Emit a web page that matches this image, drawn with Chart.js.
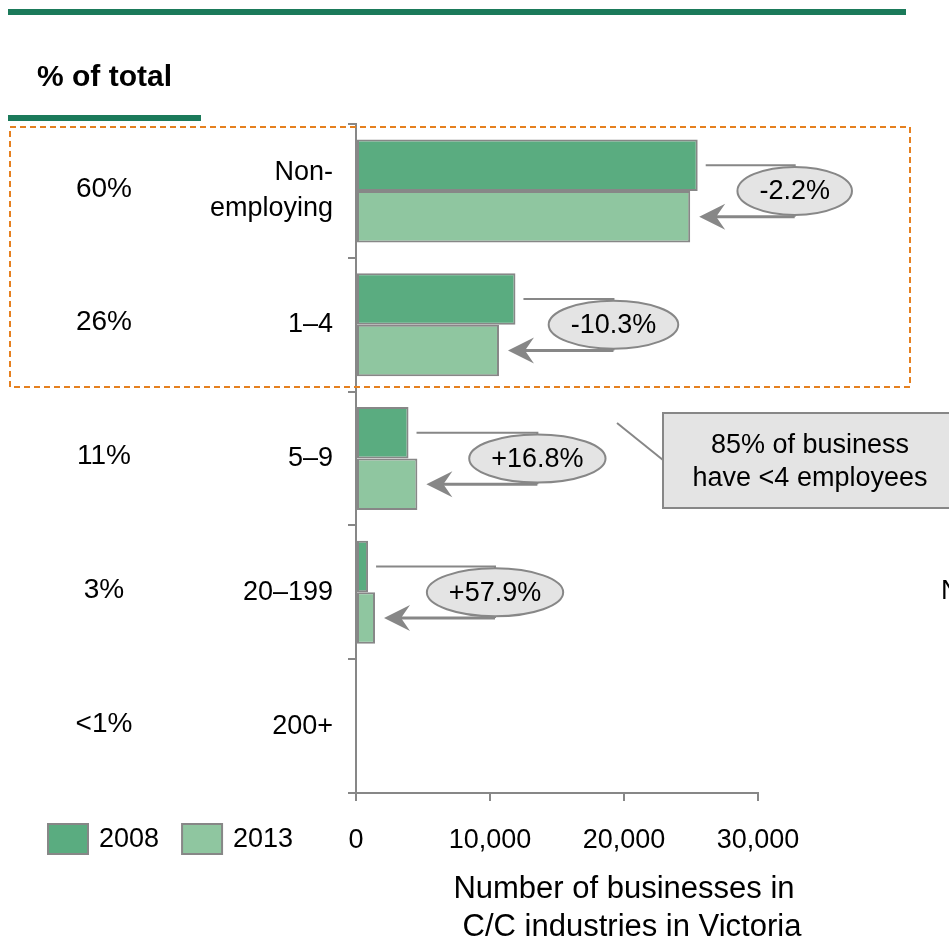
<!DOCTYPE html>
<html>
<head>
<meta charset="utf-8">
<script src="https://cdn.jsdelivr.net/npm/chart.js@4"></script>
<style>
  html, body { margin: 0; padding: 0; background: #fff; }
</style>
</head>
<body>
<canvas id="myChart" width="949" height="944"></canvas>
<script>
// business size bands (employees) and share of all businesses
const sizeBands = [['Non-', 'employing'], '1–4', '5–9', '20–199', '200+'];
const shareOfTotal = ['60%', '26%', '11%', '3%', '<1%'];

// number of C/C businesses in Victoria
const businesses2008 = [25500, 11900, 3920, 900, null];
const businesses2013 = [24940, 10670, 4580, 1420, null];
const changeLabels = ['-2.2%', '-10.3%', '+16.8%', '+57.9%', null];

const xTicks = [0, 10000, 20000, 30000];

const FONT = '"Liberation Sans", Arial, sans-serif';
const GREY = '#878787';

// how far right of the longer bar each change bubble sits (px)
const calloutReach = [97, 98, 120, 120, 0];

function arrowLeft(ctx, tipX, y) {
    ctx.beginPath();
    ctx.moveTo(tipX, y);
    ctx.lineTo(tipX + 26, y - 13);
    ctx.lineTo(tipX + 17, y);
    ctx.lineTo(tipX + 26, y + 13);
    ctx.closePath();
    ctx.fill();
}

const extras = {
    id: 'extras',
    afterDraw(chart) {
        const ctx = chart.ctx;
        const yScale = chart.scales.y;
        ctx.save();

        // header rules and title
        ctx.fillStyle = '#1b7a5a';
        ctx.fillRect(8, 9, 898, 6);
        ctx.fillRect(8, 115, 193, 6);
        ctx.fillStyle = '#000';
        ctx.font = 'bold 30px ' + FONT;
        ctx.textAlign = 'left';
        ctx.textBaseline = 'middle';
        ctx.fillText('% of total', 37, 78);

        // share column
        ctx.font = '28px ' + FONT;
        ctx.textAlign = 'center';
        shareOfTotal.forEach((s, i) => {
            ctx.fillText(s, 104, yScale.getPixelForValue(i) - 2);
        });

        // change callouts
        const m08 = chart.getDatasetMeta(0);
        const m13 = chart.getDatasetMeta(1);
        ctx.strokeStyle = GREY;
        ctx.fillStyle = GREY;
        changeLabels.forEach((txt, i) => {
            if (!txt) return;
            const b08 = m08.data[i], b13 = m13.data[i];
            const xEnd = Math.max(b08.x, b13.x) + calloutReach[i];
            ctx.lineWidth = 2;
            ctx.beginPath();
            ctx.moveTo(b08.x + 8, b08.y);
            ctx.lineTo(xEnd, b08.y);
            ctx.lineTo(xEnd, b13.y);
            ctx.stroke();
            ctx.lineWidth = 3;
            ctx.beginPath();
            ctx.moveTo(xEnd, b13.y);
            ctx.lineTo(b13.x + 20, b13.y);
            ctx.stroke();
            ctx.fillStyle = GREY;
            arrowLeft(ctx, b13.x + 9, b13.y);

            ctx.font = '27px ' + FONT;
            const w = ctx.measureText(txt).width;
            const cy = (b08.y + b13.y) / 2;
            ctx.beginPath();
            ctx.ellipse(xEnd, cy, w / 2 + 22, 24, 0, 0, Math.PI * 2);
            ctx.fillStyle = '#e4e4e4';
            ctx.fill();
            ctx.lineWidth = 2;
            ctx.stroke();
            ctx.fillStyle = '#000';
            ctx.textAlign = 'center';
            ctx.fillText(txt, xEnd, cy + 1);
        });

        // highlight of the smallest businesses
        ctx.strokeStyle = '#e5801f';
        ctx.lineWidth = 2;
        ctx.setLineDash([6, 4]);
        ctx.strokeRect(10, 127, 900, 260);
        ctx.setLineDash([]);

        // note box
        ctx.strokeStyle = GREY;
        ctx.lineWidth = 2;
        ctx.beginPath();
        ctx.moveTo(617, 423);
        ctx.lineTo(663, 460);
        ctx.stroke();
        ctx.fillStyle = '#e4e4e4';
        ctx.fillRect(663, 413, 296, 95);
        ctx.strokeRect(663, 413, 296, 95);
        ctx.fillStyle = '#000';
        ctx.font = '27px ' + FONT;
        ctx.textAlign = 'center';
        ctx.fillText('85% of business', 810, 446);
        ctx.fillText('have <4 employees', 810, 479);

        ctx.textAlign = 'left';
        ctx.fillText('N', 941, 592);

        // legend
        let lx = 48;
        chart.data.datasets.forEach(ds => {
            ctx.fillStyle = ds.backgroundColor;
            ctx.fillRect(lx, 824, 40, 30);
            ctx.strokeStyle = GREY;
            ctx.lineWidth = 2;
            ctx.strokeRect(lx, 824, 40, 30);
            ctx.fillStyle = '#000';
            ctx.font = '27px ' + FONT;
            ctx.textAlign = 'left';
            ctx.fillText(ds.label, lx + 51, 840);
            lx += 51 + ctx.measureText(ds.label).width + 23;
        });

        // x axis title
        ctx.font = '31px ' + FONT;
        ctx.textAlign = 'center';
        ctx.fillText('Number of businesses in', 624, 889);
        ctx.fillText('C/C industries in Victoria', 632, 927);

        ctx.restore();
    }
};

const ctx = document.getElementById('myChart').getContext('2d');

new Chart(ctx, {
    type: 'bar',
    data: {
        labels: sizeBands,
        datasets: [{
            label: '2008',
            data: businesses2008,
            backgroundColor: '#5aac80',
            borderColor: GREY,
            borderWidth: 2,
            borderSkipped: false
        }, {
            label: '2013',
            data: businesses2013,
            backgroundColor: '#8fc6a0',
            borderColor: GREY,
            borderWidth: 2,
            borderSkipped: false
        }]
    },
    options: {
        responsive: false,
        animation: false,
        indexAxis: 'y',
        layout: { padding: { top: 124, right: 191, left: 0, bottom: 0 } },
        datasets: { bar: { categoryPercentage: 0.77, barPercentage: 1 } },
        plugins: {
            legend: { display: false },
            tooltip: { enabled: false }
        },
        scales: {
            x: {
                min: 0,
                max: 30000,
                afterBuildTicks: scale => { scale.ticks = xTicks.map(v => ({ value: v })); },
                afterFit: scale => { scale.height = 151; },
                grid: { drawOnChartArea: false, tickLength: 8, color: GREY, lineWidth: 2 },
                border: { display: true, color: GREY, width: 2 },
                ticks: {
                    color: '#000',
                    padding: 23,
                    maxRotation: 0,
                    font: { family: FONT, size: 27 },
                    callback: v => v.toLocaleString('en-US')
                }
            },
            y: {
                afterFit: scale => { scale.width = 356; },
                grid: { offset: true, drawOnChartArea: false, tickLength: 8, color: GREY, lineWidth: 2 },
                border: { display: true, color: GREY, width: 2 },
                ticks: {
                    color: '#000',
                    padding: 15,
                    font: { family: FONT, size: 27, lineHeight: 1.33 }
                }
            }
        }
    },
    plugins: [extras]
});
</script>
</body>
</html>
